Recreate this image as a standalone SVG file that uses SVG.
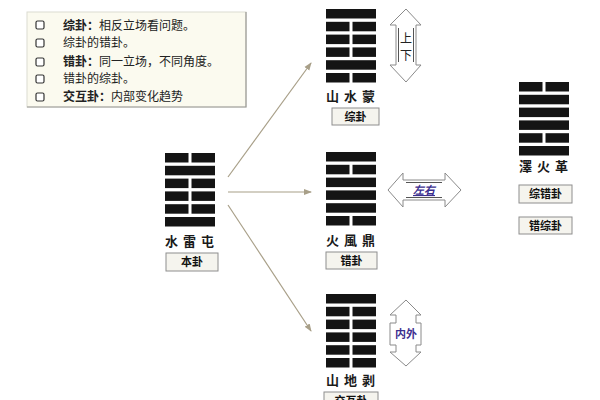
<svg xmlns="http://www.w3.org/2000/svg" xmlns:xlink="http://www.w3.org/1999/xlink" width="600" height="400" viewBox="0 0 600 400">
<style>
  text { font-family: "Noto Sans CJK SC", "Liberation Sans", sans-serif; fill: #222; }
  .lg { font-size: 12px; }
  .b { font-weight: bold; }
  .name { font-size: 13px; fill: #1a1a1a; font-weight: bold; }
  .tag rect { fill: #f5f4ee; stroke: #8e8e8e; stroke-width: 1; }
  .tag text { font-size: 11px; font-weight: bold; text-anchor: middle; fill: #111; }
  .bar { fill: #141414; }
  .conn { stroke: #a89f88; stroke-width: 1.2; fill: none; marker-end: url(#ah); }
  .dbl { fill: #ffffff; stroke: #8a8a8a; stroke-width: 1; }
  .inner { stroke: #555; stroke-width: 1; }
  .chk { fill: #fff; stroke: #333; stroke-width: 1.2; }
  .purple { fill: #3c2f8f; font-size: 11px; text-anchor: middle; font-weight: bold; }
</style>
<defs>
  <g id="yang"><rect class="bar" x="0" y="0" width="50" height="9.5"/></g>
  <g id="yin"><rect class="bar" x="0" y="0" width="23.5" height="9.5"/><rect class="bar" x="26.5" y="0" width="23.5" height="9.5"/></g>
  <marker id="ah" markerWidth="8" markerHeight="8" refX="7" refY="4" orient="auto" markerUnits="userSpaceOnUse">
    <path d="M0,1 L8,4 L0,7 Z" fill="#a89f88"/>
  </marker>
</defs>
<rect width="600" height="400" fill="#ffffff"/>

<g id="legend">
  <rect x="27" y="12" width="219" height="95" fill="#fbfaef" stroke="#dcdcd2"/>
  <path d="M246,12 V107 H27" fill="none" stroke="#9a9a96" stroke-width="1.2"/>
  <rect class="chk" x="36" y="21" width="8" height="8" rx="1.5"/>
  <rect class="chk" x="36" y="39" width="8" height="8" rx="1.5"/>
  <rect class="chk" x="36" y="58" width="8" height="8" rx="1.5"/>
  <rect class="chk" x="36" y="75" width="8" height="8" rx="1.5"/>
  <rect class="chk" x="36" y="93" width="8" height="8" rx="1.5"/>
  <text class="lg" x="63" y="30"><tspan class="b">综卦：</tspan>相反立场看问题。</text>
  <text class="lg" x="63" y="47">综卦的错卦。</text>
  <text class="lg" x="63" y="66"><tspan class="b">错卦：</tspan>同一立场，不同角度。</text>
  <text class="lg" x="63" y="83">错卦的综卦。</text>
  <text class="lg" x="63" y="101"><tspan class="b">交互卦：</tspan>内部变化趋势</text>
</g>

<g id="connectors">
  <line class="conn" x1="228" y1="177" x2="311" y2="63"/>
  <line class="conn" x1="228" y1="192" x2="311" y2="192"/>
  <line class="conn" x1="228" y1="205" x2="311" y2="331"/>
</g>

<g id="benGua">
  <g transform="translate(165,153)">
    <use href="#yin" y="0"/><use href="#yang" y="12.8"/><use href="#yin" y="25.6"/>
    <use href="#yin" y="38.4"/><use href="#yin" y="51.2"/><use href="#yang" y="64"/>
  </g>
  <text class="name" x="165 183 201" y="246">水雷屯</text>
  <g class="tag"><rect x="166" y="253" width="52" height="18"/><text x="192" y="266">本卦</text></g>
</g>

<g id="zongGua">
  <g transform="translate(326,9)">
    <use href="#yang" y="0"/><use href="#yin" y="12.8"/><use href="#yin" y="25.6"/>
    <use href="#yin" y="38.4"/><use href="#yang" y="51.2"/><use href="#yin" y="64"/>
  </g>
  <text class="name" x="326 344 362" y="101">山水蒙</text>
  <g class="tag"><rect x="332" y="108" width="47" height="17"/><text x="355.5" y="121">综卦</text></g>
</g>

<g id="cuoGua">
  <g transform="translate(326,152)">
    <use href="#yang" y="0"/><use href="#yin" y="12.8"/><use href="#yang" y="25.6"/>
    <use href="#yang" y="38.4"/><use href="#yang" y="51.2"/><use href="#yin" y="64"/>
  </g>
  <text class="name" x="326 344 362" y="245">火風鼎</text>
  <g class="tag"><rect x="326" y="252" width="51" height="17"/><text x="351.5" y="265">错卦</text></g>
</g>

<g id="huGua">
  <g transform="translate(326,294)">
    <use href="#yang" y="0"/><use href="#yin" y="12.8"/><use href="#yin" y="25.6"/>
    <use href="#yin" y="38.4"/><use href="#yin" y="51.2"/><use href="#yin" y="64"/>
  </g>
  <text class="name" x="326 344 362" y="385">山地剥</text>
  <g class="tag"><rect x="324" y="392" width="54" height="17"/><text x="351" y="405">交互卦</text></g>
</g>

<g id="geGua">
  <g transform="translate(519,82)">
    <use href="#yin" y="0"/><use href="#yang" y="12.8"/><use href="#yang" y="25.6"/>
    <use href="#yang" y="38.4"/><use href="#yin" y="51.2"/><use href="#yang" y="64"/>
  </g>
  <text class="name" x="519 537 555" y="171">澤火革</text>
  <g class="tag"><rect x="519" y="185" width="53" height="18"/><text x="545.5" y="198">综错卦</text></g>
  <g class="tag"><rect x="519" y="217" width="53" height="17"/><text x="545.5" y="230">错综卦</text></g>
</g>

<g id="arrowUpDown">
  <path class="dbl" d="M406,9 L421,25 L416,25 L416,65 L421,65 L406,82 L390,65 L396,65 L396,25 L390,25 Z"/>
  <line class="inner" x1="398.5" y1="28" x2="398.5" y2="62"/>
  <line class="inner" x1="413.5" y1="28" x2="413.5" y2="62"/>
  <text x="406" y="43" font-size="12" text-anchor="middle" fill="#333">上</text>
  <text x="406" y="60" font-size="12" text-anchor="middle" fill="#333">下</text>
</g>

<g id="arrowLeftRight">
  <path class="dbl" d="M388,190 L403,173 L403,180 L445,180 L445,173 L461,190 L445,207 L445,200 L403,200 L403,207 Z"/>
  <line class="inner" x1="406" y1="182.5" x2="442" y2="182.5"/>
  <line class="inner" x1="406" y1="197.5" x2="442" y2="197.5"/>
  <text class="purple" x="424" y="194" font-style="italic" text-decoration="underline">左右</text>
</g>

<g id="arrowInOut">
  <path class="dbl" d="M406,300 L421,315 L416,315 L416,323 L421,323 L421,345 L416,345 L416,352 L421,352 L406,366 L390,352 L396,352 L396,345 L390,345 L390,323 L396,323 L396,315 L390,315 Z"/>
  <text class="purple" x="406" y="338">内外</text>
</g>
</svg>
